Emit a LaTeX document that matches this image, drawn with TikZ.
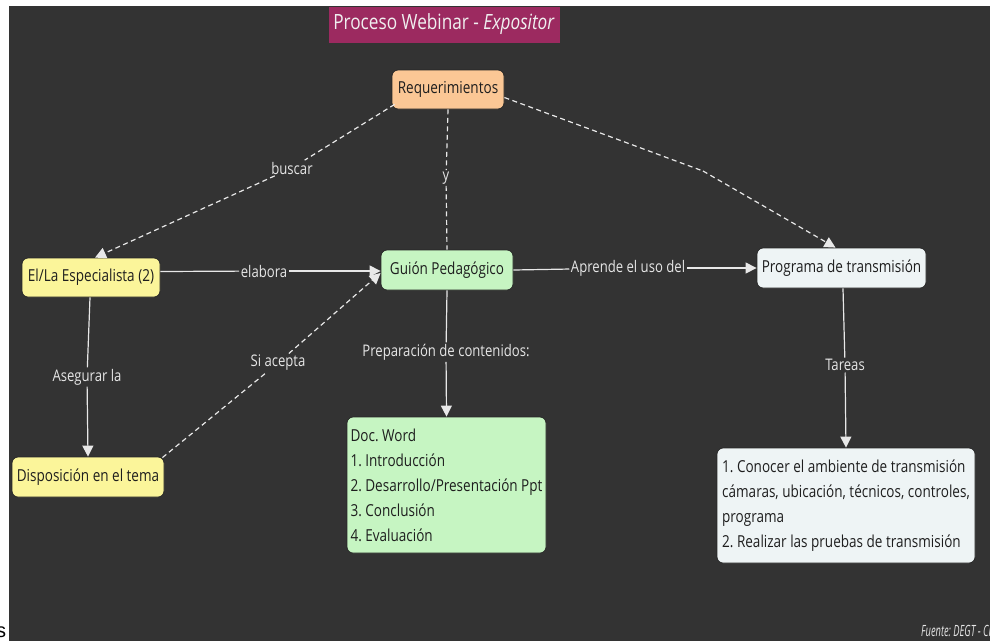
\documentclass[tikz,border=0pt]{standalone}
\usepackage{fontspec}
\setmainfont{Open Sans}[FakeStretch=0.82]
\newfontfamily\fuentefont{Open Sans}[FakeStretch=0.6]
\newfontfamily\strayfont{Liberation Sans}
\usetikzlibrary{arrows.meta}
\frenchspacing
\definecolor{bg}{HTML}{333333}
\definecolor{titlefill}{HTML}{9C2A60}
\definecolor{peach}{HTML}{FBC795}
\definecolor{yel}{HTML}{FBF59A}
\definecolor{grn}{HTML}{C6F5C2}
\definecolor{blu}{HTML}{EEF4F5}
\definecolor{txt}{HTML}{1E1E1E}
\definecolor{lbl}{HTML}{E6E6E6}
\definecolor{edge}{HTML}{E8E8E8}
\begin{document}
\begin{tikzpicture}[x=1pt,y=-1pt,
  box/.style={draw=black!85, line width=0.8pt, rounded corners=6pt, inner sep=0pt,
    text=txt, font=\fontsize{16.5}{25}\selectfont},
  lab/.style={fill=bg, text=lbl, inner sep=1.5pt, font=\fontsize{16}{20}\selectfont},
  conn/.style={draw=edge, line width=1.2pt},
  dconn/.style={conn, dash pattern=on 5pt off 3.5pt},
  tip/.style={-{Triangle[width=11pt,length=11pt]}}
]
\useasboundingbox (0,0) rectangle (990,641);
\fill[white] (0,0) rectangle (990,641);
\fill[bg] (9,6) rectangle (990,641);

% title
\node[draw=black!80, fill=titlefill, minimum width=232pt, minimum height=37pt, inner sep=0pt,
  text=white!94!black, font=\fontsize{21}{24}\selectfont] (title) at (444,24.5)
  {Proceso Webinar - \textit{Expositor}};

% concept nodes
\node[box, fill=peach, minimum width=112pt, minimum height=39pt] (req) at (448,89.5) {Requerimientos};
\node[box, fill=yel, minimum width=138pt, minimum height=39pt] (esp) at (91,277.5) {El/La Especialista (2)};
\node[box, fill=grn, minimum width=132pt, minimum height=40pt] (guion) at (447,270) {Guión Pedagógico};
\node[box, fill=blu, minimum width=169pt, minimum height=40pt] (prog) at (841.5,268) {Programa de transmisión};
\node[box, fill=yel, minimum width=152pt, minimum height=40pt] (disp) at (88,477) {Disposición en el tema};
\node[box, fill=grn, minimum width=199pt, minimum height=136pt, align=left] (doc) at (446.5,485)
  {Doc. Word\\1. Introducción\\2. Desarrollo/Presentación Ppt\\3. Conclusión\\4. Evaluación};
\node[box, fill=blu, minimum width=258pt, minimum height=115pt, align=left] (tar) at (846,505.5)
  {1. Conocer el ambiente de transmisión\\cámaras, ubicación, técnicos, controles,\\programa\\2. Realizar las pruebas de transmisión};

% linking labels
\node[lab] (buscar) at (292,168) {buscar};
\node[lab] (ylab) at (446,178) {y};
\node[lab] (elabora) at (264,271) {elabora};
\node[lab] (aprende) at (628,268) {Aprende el uso del};
\node[lab] (aseg) at (87,377) {Asegurar la};
\node[lab] (acepta) at (278,363) {Si acepta};
\node[lab] (prep) at (446,352) {Preparación de contenidos:};
\node[lab] (tareas) at (845,365) {Tareas};
\coordinate (bend) at (703,171);

% connectors
\draw[dconn] ([xshift=3pt,yshift=5pt]req.south west) -- (buscar);
\draw[dconn,tip] (buscar) -- ([xshift=4pt]esp.north);
\draw[dconn] (req.south) -- (ylab);
\draw[dconn] (ylab) -- (guion.north);
\draw[dconn] ([yshift=-8pt]req.east) -- (bend);
\draw[dconn,tip] (bend) -- ([xshift=-6pt]prog.north);
\draw[conn] ([yshift=6pt]esp.east) -- (elabora);
\draw[conn,tip] (elabora) -- ([yshift=-1pt]guion.west);
\draw[conn] (guion.east) -- (aprende);
\draw[conn,tip] (aprende) -- (prog.west);
\draw[conn] ([xshift=-1pt]esp.south) -- (aseg);
\draw[conn,tip] (aseg) -- (disp.north);
\draw[dconn] ([xshift=-2pt,yshift=-1pt]disp.north east) -- (acepta);
\draw[dconn,tip] (acepta) -- ([yshift=-3pt]guion.west);
\draw[conn] (guion.south) -- (prep);
\draw[conn,tip] (prep) -- (doc.north);
\draw[conn] ([xshift=1.5pt]prog.south) -- (tareas);
\draw[conn,tip] (tareas) -- (tar.north);

% source note and stray glyph
\node[anchor=west, text=lbl, inner sep=0pt, font=\fuentefont\fontsize{15.5}{17}\selectfont\itshape] (fuente) at (921,631) {Fuente: DEGT - CRA};
\node[anchor=west, text=black, inner sep=0pt, font=\strayfont\fontsize{20}{22}\selectfont] (stray) at (-4,632) {s};
\end{tikzpicture}
\end{document}
